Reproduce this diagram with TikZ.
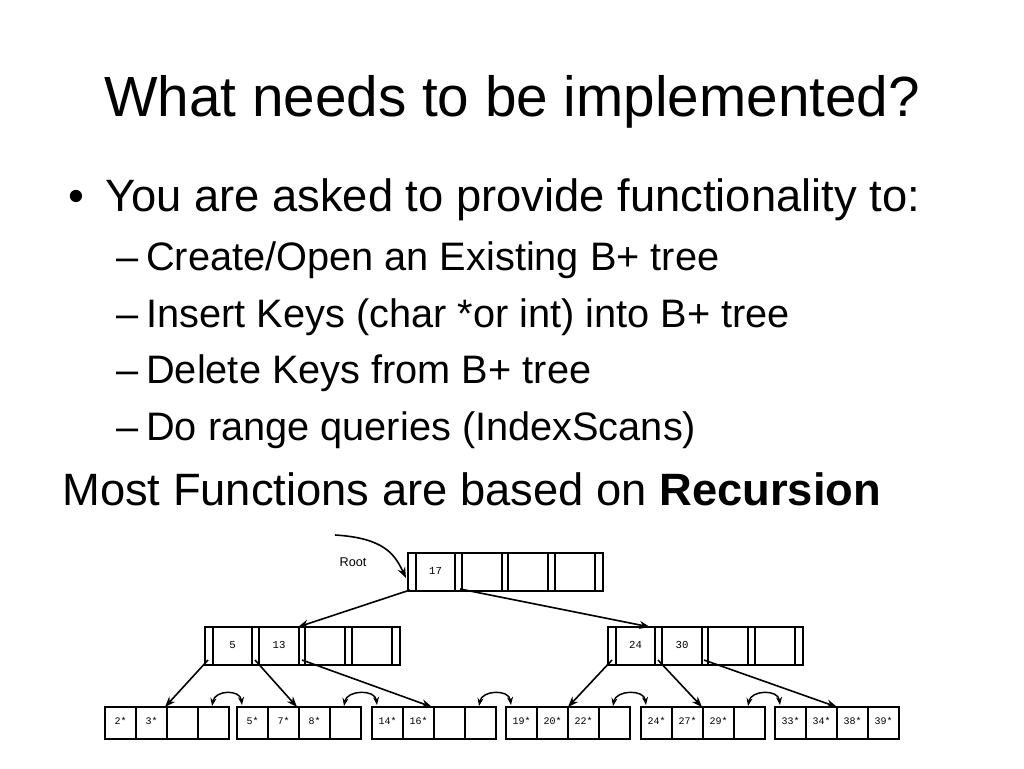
\documentclass[tikz,border=0pt]{standalone}
\usepackage{fontspec}
\setmainfont{Liberation Sans}
\newfontfamily\keyfont{Liberation Mono}
\usetikzlibrary{calc,arrows.meta}
\tikzset{
  box/.style={draw, line width=1pt, inner sep=0pt, outer sep=0pt, anchor=north west},
  ibox/.style={box, minimum width=146.25pt, minimum height=28.5pt},
  lbox/.style={box, minimum width=93pt, minimum height=24pt},
  divider/.style={line width=0.8pt},
  key/.style={font=\keyfont\fontsize{8}{9}\selectfont, inner sep=0pt},
  lkey/.style={font=\keyfont\fontsize{7.5}{9}\selectfont, inner sep=0pt},
  ptr/.style={-{Stealth[length=8pt,width=6pt]}, line width=1.2pt},
  sib/.style={{Stealth[length=6pt,width=4.5pt]}-{Stealth[length=6pt,width=4.5pt]}, line width=1.1pt},
  titletext/.style={font=\fontsize{42.5}{50}\selectfont, anchor=base, inner sep=0pt},
  bodytext/.style={font=\fontsize{34}{40}\selectfont, anchor=base west, inner sep=0pt},
  subtext/.style={font=\fontsize{29.8}{36}\selectfont, anchor=base west, inner sep=0pt},
  rootlabel/.style={font=\fontsize{9.5}{11}\selectfont, inner sep=0pt}
}
\newcommand\mkinode[5]{%
  \node[ibox] (#1) at (#2,#3) {};
  \foreach \o in {8,47,54,94,100,140,147,187}{\draw[divider] ($(#1.north west)+(\o,0)$) -- ++(0,38);}
  \node[key] (#1k1) at ($(#1.north west)+(27.5,18)$) {#4};
  \node[key] (#1k2) at ($(#1.north west)+(74,18)$) {#5};
}
\newcommand\mkleaf[6]{%
  \node[lbox] (#1) at (#2,707) {};
  \foreach \o in {31,62,93}{\draw[divider] ($(#1.north west)+(\o,0)$) -- ++(0,32);}
  \node[lkey] (#1k1) at ($(#1.north west)+(15.5,14)$) {#3};
  \node[lkey] (#1k2) at ($(#1.north west)+(46.5,14)$) {#4};
  \node[lkey] (#1k3) at ($(#1.north west)+(77.5,14)$) {#5};
  \node[lkey] (#1k4) at ($(#1.north west)+(108.5,14)$) {#6};
}
\begin{document}
\begin{tikzpicture}[x=0.75pt,y=-0.75pt]
\useasboundingbox[fill=white] (0,0) rectangle (1024,768);

% texts
\node[titletext] (title) at (512,116) {What needs to be implemented?};
\node[bodytext] (bul) at (68,211) {•};
\node[bodytext] (b1) at (105,211) {You are asked to provide functionality to:};
\node[subtext] (d1) at (116,270) {–};
\node[subtext] (s1) at (146,270) {Create/Open an Existing B+ tree};
\node[subtext] (d2) at (116,327) {–};
\node[subtext] (s2) at (146,327) {Insert Keys (char *or int) into B+ tree};
\node[subtext] (d3) at (116,383) {–};
\node[subtext] (s3) at (146,383) {Delete Keys from B+ tree};
\node[subtext] (d4) at (116,440) {–};
\node[subtext] (s4) at (146,440) {Do range queries (IndexScans)};
\node[bodytext] (b2) at (62,505) {Most Functions are based on \textbf{Recursion}};

% tree nodes
\mkinode{R}{408}{553}{17}{}
\mkinode{LI}{205}{627}{5}{13}
\mkinode{RI}{608}{627}{24}{30}
\mkleaf{La}{105}{2*}{3*}{}{}
\mkleaf{Lb}{237}{5*}{7*}{8*}{}
\mkleaf{Lc}{372}{14*}{16*}{}{}
\mkleaf{Ld}{506}{19*}{20*}{22*}{}
\mkleaf{Le}{641}{24*}{27*}{29*}{}
\mkleaf{Lf}{775}{33*}{34*}{38*}{39*}

% root pointer
\node[rootlabel] (rootlbl) at (353,562) {Root};
\coordinate (rootstart) at (335,535);
\draw[ptr] (rootstart) .. controls (385,538) and (395,555) .. ($(R.north west)+(-2,25)$);

% tree pointers
\draw[ptr] ($(R.north west)+(2,37)$) -- ($(LI.north west)+(93,0)$);
\draw[ptr] ($(R.north west)+(52,36)$) -- ($(RI.north west)+(42,0)$);
\draw[ptr] ($(LI.north west)+(3,33)$) -- ($(La.north west)+(60,0)$);
\draw[ptr] ($(LI.north west)+(50,33)$) -- ($(Lb.north west)+(60,0)$);
\draw[ptr] ($(LI.north west)+(97,33)$) -- ($(Lc.north west)+(60,0)$);
\draw[ptr] ($(RI.north west)+(4,33)$) -- ($(Ld.north west)+(62,0)$);
\draw[ptr] ($(RI.north west)+(50,33)$) -- ($(Le.north west)+(61,0)$);
\draw[ptr] ($(RI.north west)+(96,33)$) -- ($(Lf.north west)+(62,0)$);

% sibling links
\foreach \a/\b in {La/Lb,Lb/Lc,Lc/Ld,Ld/Le,Le/Lf}{
  \draw[sib] ($(\a.north east)+(-17,-1)$) .. controls +(3,-16) and +(-2,-16) .. ($(\b.north west)+(5,-2)$);
}
\end{tikzpicture}
\end{document}
